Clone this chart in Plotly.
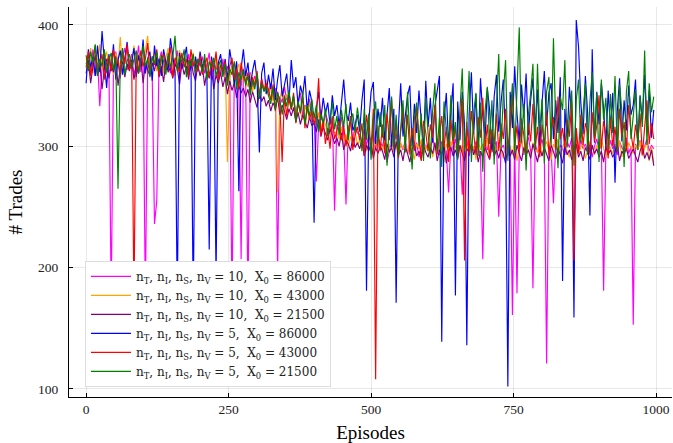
import plotly.graph_objects as go

# Episode index for the sampled values (every 4th episode)
EPISODES = list(range(0, 1000, 4))

magenta_vals = [
    368, 375, 362, 380, 358, 372, 333, 366, 377, 360,
    371, 170, 364, 378, 369, 356, 374, 381, 363, 370,
    376, 359, 368, 383, 361, 373, 170, 366, 372, 358,
    236, 255, 370, 378, 362, 367, 374, 360, 371, 365,
    379, 357, 369, 373, 361, 376, 364, 370, 358, 372,
    366, 374, 360, 368, 377, 355, 371, 363, 369, 359,
    372, 356, 366, 361, 170, 358, 369, 352, 207, 364,
    355, 170, 361, 349, 358, 352, 343, 356, 347, 351,
    344, 352, 339, 348, 196, 341, 336, 349, 338, 343,
    333, 341, 328, 337, 344, 325, 334, 330, 339, 326,
    323, 271, 319, 330, 316, 327, 321, 312, 325, 247,
    318, 313, 324, 309, 252, 315, 320, 306, 317, 311,
    310, 304, 314, 301, 309, 305, 312, 298, 307, 303,
    300, 308, 287, 296, 304, 299, 311, 293, 302, 297,
    305, 294, 301, 309, 296, 303, 291, 300, 306, 298,
    302, 295, 308, 297, 301, 293, 304, 299, 296, 262,
    303, 297, 306, 294, 300, 260, 298, 305, 292, 301,
    296, 304, 299, 293, 207, 302, 297, 308, 295, 300,
    304, 242, 298, 301, 294, 306, 299, 161, 303, 179,
    297, 305, 293, 300, 308, 296, 183, 302, 295, 299,
    306, 294, 121, 300, 297, 253, 303, 295, 301, 298,
    293, 304, 299, 307, 296, 301, 294, 305, 298, 302,
    296, 303, 291, 300, 306, 297, 302, 181, 299, 294,
    305, 298, 301, 293, 304, 299, 296, 307, 294, 300,
    153, 302, 297, 305, 293, 300, 306, 296, 301, 298,
]

orange_vals = [
    372, 366, 381, 360, 375, 369, 384, 363, 371, 378,
    365, 374, 359, 377, 368, 390, 362, 373, 380, 367,
    370, 383, 361, 376, 366, 372, 379, 391, 364, 371,
    377, 362, 369, 375, 360, 373, 381, 366, 370, 358,
    371, 379, 364, 368, 375, 361, 370, 377, 362, 366,
    374, 360, 367, 372, 358, 369, 363, 376, 356, 368,
    361, 370, 287, 357, 366, 353, 362, 368, 350, 359,
    356, 349, 360, 345, 354, 358, 343, 352, 347, 355,
    341, 350, 337, 346, 262, 339, 348, 334, 343, 336,
    331, 339, 326, 335, 329, 322, 333, 327, 336, 320,
    324, 317, 328, 313, 322, 318, 309, 320, 314, 311,
    312, 306, 316, 303, 310, 299, 308, 304, 313, 301,
    305, 298, 309, 296, 303, 300, 294, 306, 299, 302,
    297, 304, 292, 300, 307, 295, 301, 290, 303, 298,
    301, 294, 305, 297, 289, 302, 298, 306, 293, 300,
    296, 303, 291, 299, 305, 294, 300, 287, 302, 297,
    304, 293, 299, 306, 295, 301, 290, 298, 303, 296,
    300, 289, 304, 297, 302, 294, 307, 291, 299, 303,
    295, 301, 298, 290, 305, 297, 300, 293, 304, 288,
    299, 306, 294, 301, 297, 291, 303, 298, 295, 305,
    292, 300, 304, 296, 289, 302, 298, 306, 293, 300,
    303, 296, 291, 301, 298, 305, 294, 299, 302, 290,
    297, 304, 300, 293, 301, 296, 306, 298, 291, 303,
    299, 294, 302, 297, 305, 291, 300, 296, 303, 298,
    294, 301, 297, 304, 292, 299, 303, 288, 300, 286,
]

purple_vals = [
    360, 371, 352, 366, 375, 358, 369, 347, 364, 372,
    356, 367, 361, 374, 350, 365, 370, 357, 368, 362,
    371, 355, 366, 360, 373, 352, 368, 363, 358, 369,
    362, 374, 357, 366, 353, 370, 361, 365, 356, 368,
    364, 351, 369, 359, 366, 355, 372, 360, 354, 367,
    358, 366, 350, 362, 356, 364, 347, 359, 352, 361,
    349, 357, 343, 354, 346, 352, 340, 350, 344, 348,
    341, 347, 336, 345, 339, 332, 344, 337, 341, 333,
    338, 329, 336, 331, 340, 326, 334, 329, 322, 331,
    325, 332, 320, 328, 318, 326, 321, 315, 324, 317,
    319, 312, 322, 308, 316, 310, 305, 314, 309, 302,
    307, 300, 311, 297, 305, 302, 296, 308, 299, 303,
    298, 305, 292, 301, 296, 303, 290, 299, 294, 300,
    296, 289, 302, 295, 299, 291, 304, 293, 297, 288,
    300, 294, 287, 298, 302, 292, 296, 289, 301, 295,
    291, 299, 294, 303, 288, 297, 293, 300, 286, 296,
    299, 292, 297, 290, 301, 294, 288, 298, 295, 302,
    293, 300, 287, 296, 291, 299, 294, 289, 303, 292,
    297, 290, 298, 294, 286, 300, 292, 297, 289, 301,
    294, 288, 299, 293, 297, 290, 302, 295, 287, 298,
    292, 299, 294, 288, 301, 296, 290, 298, 293, 286,
    300, 293, 297, 289, 295, 302, 291, 296, 288, 299,
    295, 289, 301, 294, 298, 291, 296, 287, 300, 293,
    297, 291, 295, 302, 288, 296, 293, 299, 290, 294,
    298, 292, 287, 296, 301, 290, 295, 289, 297, 284,
]

blue_vals = [
    352, 380, 365, 374, 358, 383, 361, 395, 370, 348,
    376, 362, 384, 355, 371, 379, 359, 373, 386, 364,
    369, 381, 357, 375, 366, 388, 360, 372, 378, 354,
    383, 366, 372, 358, 380, 369, 363, 389, 375, 361,
    170, 377, 364, 371, 382, 359, 368, 170, 374, 362,
    378, 365, 371, 357, 215, 374, 362, 193, 369, 376,
    360, 372, 355, 380, 367, 351, 370, 263, 364, 380,
    358, 369, 348, 362, 371, 354, 295, 360, 369, 343,
    359, 347, 364, 338, 355, 367, 341, 352, 360, 336,
    371, 348, 357, 333, 350, 342, 358, 329, 346, 337,
    237, 331, 345, 322, 340, 327, 336, 318, 342, 325,
    334, 317, 339, 355, 328, 321, 336, 313, 318, 326,
    312, 338, 355, 181, 320, 345, 353, 302, 331, 316,
    340, 305, 326, 348, 299, 331, 171, 317, 352, 308,
    325, 342, 350, 300, 335, 311, 346, 322, 297, 354,
    316, 340, 303, 333, 347, 358, 139, 321, 344, 301,
    329, 352, 177, 337, 305, 345, 318, 136, 326, 361,
    310, 343, 298, 356, 325, 306, 348, 330, 297, 341,
    359, 312, 336, 355, 302, 102, 345, 315, 366, 327,
    303, 351, 324, 360, 309, 338, 356, 314, 347, 300,
    336, 362, 317, 344, 352, 306, 338, 311, 357, 189,
    331, 307, 349, 325, 159, 404, 382, 336, 310, 358,
    327, 243, 380, 303, 345, 318, 352, 331, 299, 346,
    315, 344, 270, 329, 356, 304, 338, 313, 350, 326,
    334, 355, 301, 342, 320, 359, 317, 346, 307, 330,
]

red_vals = [
    365, 378, 358, 372, 383, 361, 370, 376, 355, 369,
    374, 362, 380, 366, 371, 359, 377, 368, 384, 363,
    370, 170, 375, 361, 379, 366, 372, 385, 360, 374,
    367, 380, 358, 371, 376, 363, 369, 382, 357, 373,
    368, 361, 377, 365, 372, 358, 380, 366, 370, 362,
    375, 359, 368, 373, 357, 371, 363, 378, 354, 367,
    362, 370, 351, 366, 373, 355, 364, 348, 369, 357,
    353, 361, 344, 357, 350, 362, 341, 355, 346, 352,
    347, 338, 351, 329, 345, 335, 287, 342, 325, 340,
    330, 344, 319, 336, 327, 341, 315, 333, 322, 329,
    318, 326, 356, 309, 321, 302, 315, 298, 324, 306,
    313, 321, 305, 317, 300, 311, 325, 297, 309, 316,
    305, 319, 292, 326, 312, 298, 331, 108, 317, 296,
    318, 294, 327, 305, 339, 299, 322, 291, 312, 330,
    301, 326, 293, 315, 297, 333, 309, 288, 321, 311,
    296, 318, 307, 334, 293, 312, 325, 299, 316, 287,
    322, 301, 317, 291, 313, 339, 206, 320, 295, 329,
    311, 293, 324, 307, 340, 298, 318, 290, 314, 302,
    327, 296, 319, 306, 331, 292, 315, 343, 300, 317,
    295, 323, 309, 289, 320, 304, 335, 298, 316, 291,
    318, 301, 329, 293, 312, 324, 297, 341, 306, 315,
    299, 322, 308, 337, 206, 315, 294, 326, 301, 319,
    312, 293, 328, 304, 317, 342, 298, 321, 309, 290,
    323, 300, 316, 295, 331, 307, 320, 296, 334, 311,
    298, 318, 304, 327, 293, 315, 338, 302, 319, 306,
]

green_vals = [
    375, 362, 378, 369, 384, 358, 372, 366, 380, 361,
    371, 377, 363, 374, 265, 368, 381, 359, 370, 376,
    364, 373, 379, 360, 369, 383, 366, 372, 357, 374,
    368, 378, 362, 375, 370, 359, 377, 365, 373, 391,
    362, 374, 369, 380, 357, 371, 366, 376, 360, 372,
    369, 361, 376, 355, 370, 365, 373, 358, 366, 371,
    357, 368, 350, 364, 359, 370, 347, 361, 355, 363,
    350, 358, 342, 355, 347, 360, 339, 352, 345, 349,
    343, 335, 349, 330, 344, 338, 326, 341, 333, 346,
    331, 342, 320, 337, 328, 345, 318, 334, 325, 339,
    323, 334, 312, 327, 319, 331, 308, 322, 336, 314,
    325, 309, 330, 316, 335, 305, 321, 327, 311, 332,
    318, 296, 331, 305, 327, 289, 322, 337, 301, 328,
    307, 334, 284, 319, 341, 298, 326, 292, 317, 338,
    295, 345, 309, 281, 323, 336, 300, 327, 288, 340,
    311, 290, 329, 352, 296, 324, 283, 337, 314, 299,
    342, 305, 320, 289, 330, 364, 296, 318, 362, 287,
    327, 344, 292, 336, 279, 329, 349, 302, 338, 285,
    334, 376, 298, 342, 371, 288, 325, 352, 294, 347,
    398, 303, 335, 280, 326, 344, 368, 297, 368, 312,
    339, 286, 345, 357, 301, 389, 318, 282, 341, 330,
    371, 299, 326, 346, 284, 338, 355, 303, 328, 352,
    293, 337, 361, 308, 344, 287, 355, 322, 340, 298,
    343, 311, 358, 296, 351, 329, 283, 345, 362, 306,
    325, 347, 297, 341, 316, 379, 301, 352, 328, 341,
]

SP = "\u00a0\u00a0"
LABEL_PREFIX = "n<sub>T</sub>, n<sub>I</sub>, n<sub>S</sub>, n<sub>V</sub> = "
series_n = ["10", "10", "10", "5", "5", "5"]
series_x0 = ["86000", "43000", "21500", "86000", "43000", "21500"]
series_vals = [magenta_vals, orange_vals, purple_vals, blue_vals, red_vals, green_vals]
series_colors = ["#FF00FF", "#FFA500", "#800080", "#0000FF", "#FF0000", "#008000"]

SERIF = "Liberation Serif, Times New Roman, serif"
LEG_SERIF = "DejaVu Serif, serif"

fig = go.Figure()
for n, x0, vals, col in zip(series_n, series_x0, series_vals, series_colors):
    fig.add_trace(go.Scatter(
        x=EPISODES[:len(vals)], y=vals, mode="lines",
        name=f"{LABEL_PREFIX}{n},{SP}X<sub>0</sub> = {x0}",
        line=dict(color=col, width=1.15),
    ))

fig.update_layout(
    width=673, height=443,
    margin=dict(l=69, r=1, t=7, b=46),
    paper_bgcolor="white", plot_bgcolor="white",
    font=dict(family=SERIF, color="black"),
    showlegend=True,
    legend=dict(
        x=0.0265, y=0.026, xanchor="left", yanchor="bottom",
        bgcolor="white", bordercolor="#dddddd", borderwidth=1,
        font=dict(family=LEG_SERIF, size=12, color="#222"),
        itemwidth=40, tracegroupgap=0,
    ),
    xaxis=dict(
        range=[-30, 1028], tickvals=[0, 250, 500, 750, 1000],
        showline=True, linecolor="black", linewidth=1, mirror=False,
        ticks="inside", ticklen=4, tickcolor="black",
        showgrid=True, gridcolor="rgba(0,0,0,0.09)", gridwidth=1, zeroline=False,
        tickfont=dict(size=13.5, family=SERIF, color="#222"),
        title=dict(text="Episodes", font=dict(size=19, family=SERIF), standoff=12),
    ),
    yaxis=dict(
        range=[93.4, 414.8], tickvals=[100, 200, 300, 400],
        showline=True, linecolor="black", linewidth=1, mirror=False,
        ticks="inside", ticklen=4, tickcolor="black",
        showgrid=True, gridcolor="rgba(0,0,0,0.09)", gridwidth=1, zeroline=False,
        tickfont=dict(size=13.5, family=SERIF, color="#222"),
        ticklabelstandoff=7,
        title=dict(text="# Trades", font=dict(size=19, family=SERIF), standoff=10),
    ),
)

# Remove the default 8px page margin so the 673x443 figure fills the window.
fig.write_html(
    "out.html",
    config={"displayModeBar": False},
    post_script="document.body.style.margin='0';document.body.style.overflow='hidden';",
)
